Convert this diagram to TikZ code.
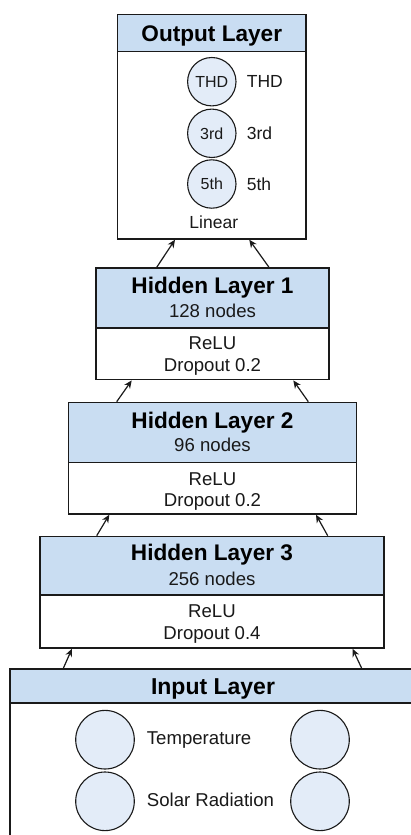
\documentclass[tikz,border=0pt]{standalone}
\usepackage{fontspec}
\setmainfont{Liberation Sans}
\usetikzlibrary{arrows.meta}
\definecolor{hdr}{HTML}{C9DDF2}
\definecolor{cfill}{HTML}{E3ECF8}
\definecolor{ln}{HTML}{1A1A1A}
\begin{document}
\begin{tikzpicture}[x=1pt,y=-1pt,
 box/.style={draw=ln,line width=1.4pt,rectangle,inner sep=0pt,anchor=north},
 hbox/.style={box,fill=hdr},
 bbox/.style={box,fill=white},
 ttl/.style={font=\fontsize{22.6}{26}\selectfont\bfseries,anchor=base,inner sep=0pt,text=black},
 txt/.style={font=\fontsize{18.6}{21}\selectfont,anchor=base,inner sep=0pt,text=black!90},
 olab/.style={font=\fontsize{17.5}{20}\selectfont,anchor=base west,inner sep=0pt,text=black!90},
 neur/.style={circle,draw=ln,line width=1.1pt,fill=cfill,inner sep=0pt,text=black!90},
 arr/.style={draw=ln,line width=1.2pt,-{Stealth[length=8pt,width=7pt]}}]
\useasboundingbox (0,0) rectangle (411,835);
\clip (0,0) rectangle (411,835);
\fill[white] (0,0) rectangle (411,835);

% Output layer
\node[bbox,minimum width=188.5pt,minimum height=187.8pt] (outb) at (211.75,50.5) {};
\node[hbox,minimum width=188.5pt,minimum height=36.5pt] (outh) at (211.75,14) {};
\node[ttl] (outt) at (211.75,41) {Output Layer};
\node[neur,minimum size=48.4pt,font=\fontsize{16}{18}\selectfont] (o1) at (211.8,81.7) {THD};
\node[neur,minimum size=48.4pt,font=\fontsize{16}{18}\selectfont] (o2) at (211.8,133.3) {3rd};
\node[neur,minimum size=48.4pt,font=\fontsize{16}{18}\selectfont] (o3) at (211.8,184) {5th};
\node[olab] (o1l) at (246.7,87.7) {THD};
\node[olab] (o2l) at (246.7,139.3) {3rd};
\node[olab] (o3l) at (246.7,190) {5th};
\node[txt,font=\fontsize{17.5}{20}\selectfont] (lin) at (213.8,228.3) {Linear};

% Hidden layer 1
\node[bbox,minimum width=233pt,minimum height=51.7pt] (h1b) at (212.5,327.3) {};
\node[hbox,minimum width=233pt,minimum height=60pt] (h1h) at (212.5,267.3) {};
\node[ttl] (h1t) at (212.5,293.3) {Hidden Layer 1};
\node[txt] (h1n) at (212.5,317.3) {128 nodes};
\node[txt] (h1r) at (212.5,349.3) {ReLU};
\node[txt] (h1d) at (212.5,371) {Dropout 0.2};

% Hidden layer 2
\node[bbox,minimum width=288.4pt,minimum height=51.6pt] (h2b) at (212.5,461.7) {};
\node[hbox,minimum width=288.4pt,minimum height=60pt] (h2h) at (212.5,401.7) {};
\node[ttl] (h2t) at (212.5,428.3) {Hidden Layer 2};
\node[txt] (h2n) at (212.5,451.7) {96 nodes};
\node[txt] (h2r) at (212.5,485) {ReLU};
\node[txt] (h2d) at (212.5,506.7) {Dropout 0.2};

% Hidden layer 3
\node[bbox,minimum width=344pt,minimum height=53pt] (h3b) at (212,594.3) {};
\node[hbox,minimum width=344pt,minimum height=58.6pt] (h3h) at (212,535.7) {};
\node[ttl] (h3t) at (212,560.7) {Hidden Layer 3};
\node[txt] (h3n) at (212,585) {256 nodes};
\node[txt] (h3r) at (212,617.7) {ReLU};
\node[txt] (h3d) at (212,639.3) {Dropout 0.4};

% Input layer
\node[bbox,minimum width=406pt,minimum height=200pt] (inb) at (213,702.3) {};
\node[hbox,minimum width=406pt,minimum height=34pt] (inh) at (213,668.3) {};
\node[ttl,font=\fontsize{23}{26}\selectfont\bfseries] (intt) at (213,694) {Input Layer};
\node[neur,minimum size=58.6pt] (i1) at (105,739.7) {};
\node[neur,minimum size=58.6pt] (i2) at (105,801.3) {};
\node[neur,minimum size=58.6pt] (i3) at (320,739.7) {};
\node[neur,minimum size=58.6pt] (i4) at (320,801.3) {};
\node[txt,anchor=base west] (i1l) at (146.7,744) {Temperature};
\node[txt,anchor=base west] (i2l) at (146.7,806.7) {Solar Radiation};

% Connectors
\draw[arr] ([xshift=-55.8pt]h1h.north) -- ([xshift=-36.75pt]outb.south);
\draw[arr] ([xshift=56.5pt]h1h.north) -- ([xshift=37.5pt]outb.south);
\draw[arr] ([xshift=-95.8pt]h2h.north) -- ([xshift=-80.8pt]h1b.south);
\draw[arr] ([xshift=95.8pt]h2h.north) -- ([xshift=80.8pt]h1b.south);
\draw[arr] ([xshift=-115.3pt]h3h.north) -- ([xshift=-103.2pt]h2b.south);
\draw[arr] ([xshift=115.7pt]h3h.north) -- ([xshift=103.5pt]h2b.south);
\draw[arr] ([xshift=-149.7pt]inh.north) -- ([xshift=-140pt]h3b.south);
\draw[arr] ([xshift=148.7pt]inh.north) -- ([xshift=140.5pt]h3b.south);
\end{tikzpicture}
\end{document}
